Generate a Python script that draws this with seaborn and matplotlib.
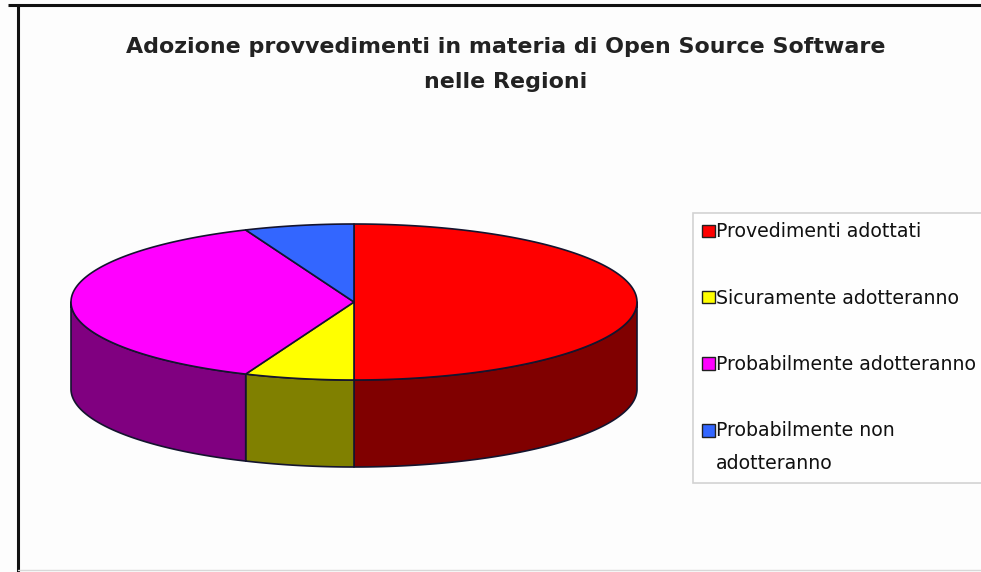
import numpy as np
import matplotlib
matplotlib.use("Agg")
import matplotlib.pyplot as plt
from matplotlib.patches import Polygon, Patch
import seaborn as sns

# Survey of the regions: how they stand on open source software measures
categories = ["Provedimenti adottati", "Sicuramente adotteranno",
              "Probabilmente adotteranno", "Probabilmente non\nadotteranno"]
regions = [8, 1, 6, 1]
top_colors = ["#ff0000", "#ffff00", "#ff00ff", "#3366ff"]
side_colors = ["#800000", "#808000", "#800080", "#1a3380"]
title_lines = ["Adozione provvedimenti in materia di Open Source Software",
               "nelle Regioni"]

sns.set_theme(style="white")
plt.rcParams["font.family"] = ["DejaVu Sans"]

W, H = 981, 572
fig = plt.figure(figsize=(W / 100, H / 100), dpi=100)
fig.patch.set_facecolor("#fdfdfd")
ax = fig.add_axes([0, 0, 1, 1])
ax.set_xlim(0, W)
ax.set_ylim(H, 0)
ax.axis("off")

# tilted pie: centre, half-axes of the top face and wall height (pixels)
cx, cy, rx, ry, depth = 354, 302, 283, 78, 87
edge = "#14142e"


def rim(a0, a1, n=160):
    """Points on the top rim, angles clockwise from 12 o'clock."""
    t = np.radians(np.linspace(a0, a1, n))
    return cx + rx * np.sin(t), cy - ry * np.cos(t)


shares = np.asarray(regions, dtype=float) / sum(regions) * 360.0
bounds = np.concatenate([[0.0], np.cumsum(shares)])

# front walls (only the half facing the viewer is visible)
for a0, a1, c in zip(bounds[:-1], bounds[1:], side_colors):
    lo, hi = max(a0, 90.0), min(a1, 270.0)
    if hi <= lo:
        continue
    x, y = rim(lo, hi)
    pts = np.column_stack([np.concatenate([x, x[::-1]]),
                           np.concatenate([y, y[::-1] + depth])])
    ax.add_patch(Polygon(pts, closed=True, fc=c, ec=edge, lw=1.2,
                         joinstyle="round"))

# top face wedges
for a0, a1, c in zip(bounds[:-1], bounds[1:], top_colors):
    x, y = rim(a0, a1)
    pts = np.column_stack([np.concatenate([[cx], x]),
                           np.concatenate([[cy], y])])
    ax.add_patch(Polygon(pts, closed=True, fc=c, ec=edge, lw=1.2,
                         joinstyle="round"))

# title
for y, line in zip([47, 82], title_lines):
    ax.text(506, y, line, ha="center", va="center", fontsize=15.9,
            fontweight="bold", color="#222222")

# legend
handles = [Patch(fc=c, ec="#202020", lw=1.0) for c in top_colors]
leg = ax.legend(handles, categories, loc="upper left",
                bbox_to_anchor=(693 / W, 1 - 213 / H),
                bbox_transform=fig.transFigure, fontsize=13.6,
                frameon=True, fancybox=False, edgecolor="#c8c8c8",
                labelspacing=2.5, handlelength=0.65, handleheight=0.65,
                handletextpad=0.08, borderpad=0.5, borderaxespad=0)
leg.get_frame().set_linewidth(1.2)
for t in leg.get_texts():
    t.set_color("#111111")
    t.set_linespacing(1.95)
# the two-line entry keeps its swatch beside the first line
last = leg.legend_handles[-1]
last.set_y(last.get_y() + 12.5)

# chart area frame
ax.plot([8, W], [5, 5], color="#111111", lw=2.2, solid_capstyle="butt")
ax.plot([18, 18], [5, H], color="#111111", lw=2.2, solid_capstyle="butt")
ax.plot([18, W], [H - 2, H - 2], color="#d8d8d8", lw=1.0)

fig.savefig("out.png", dpi=100, facecolor=fig.get_facecolor())
